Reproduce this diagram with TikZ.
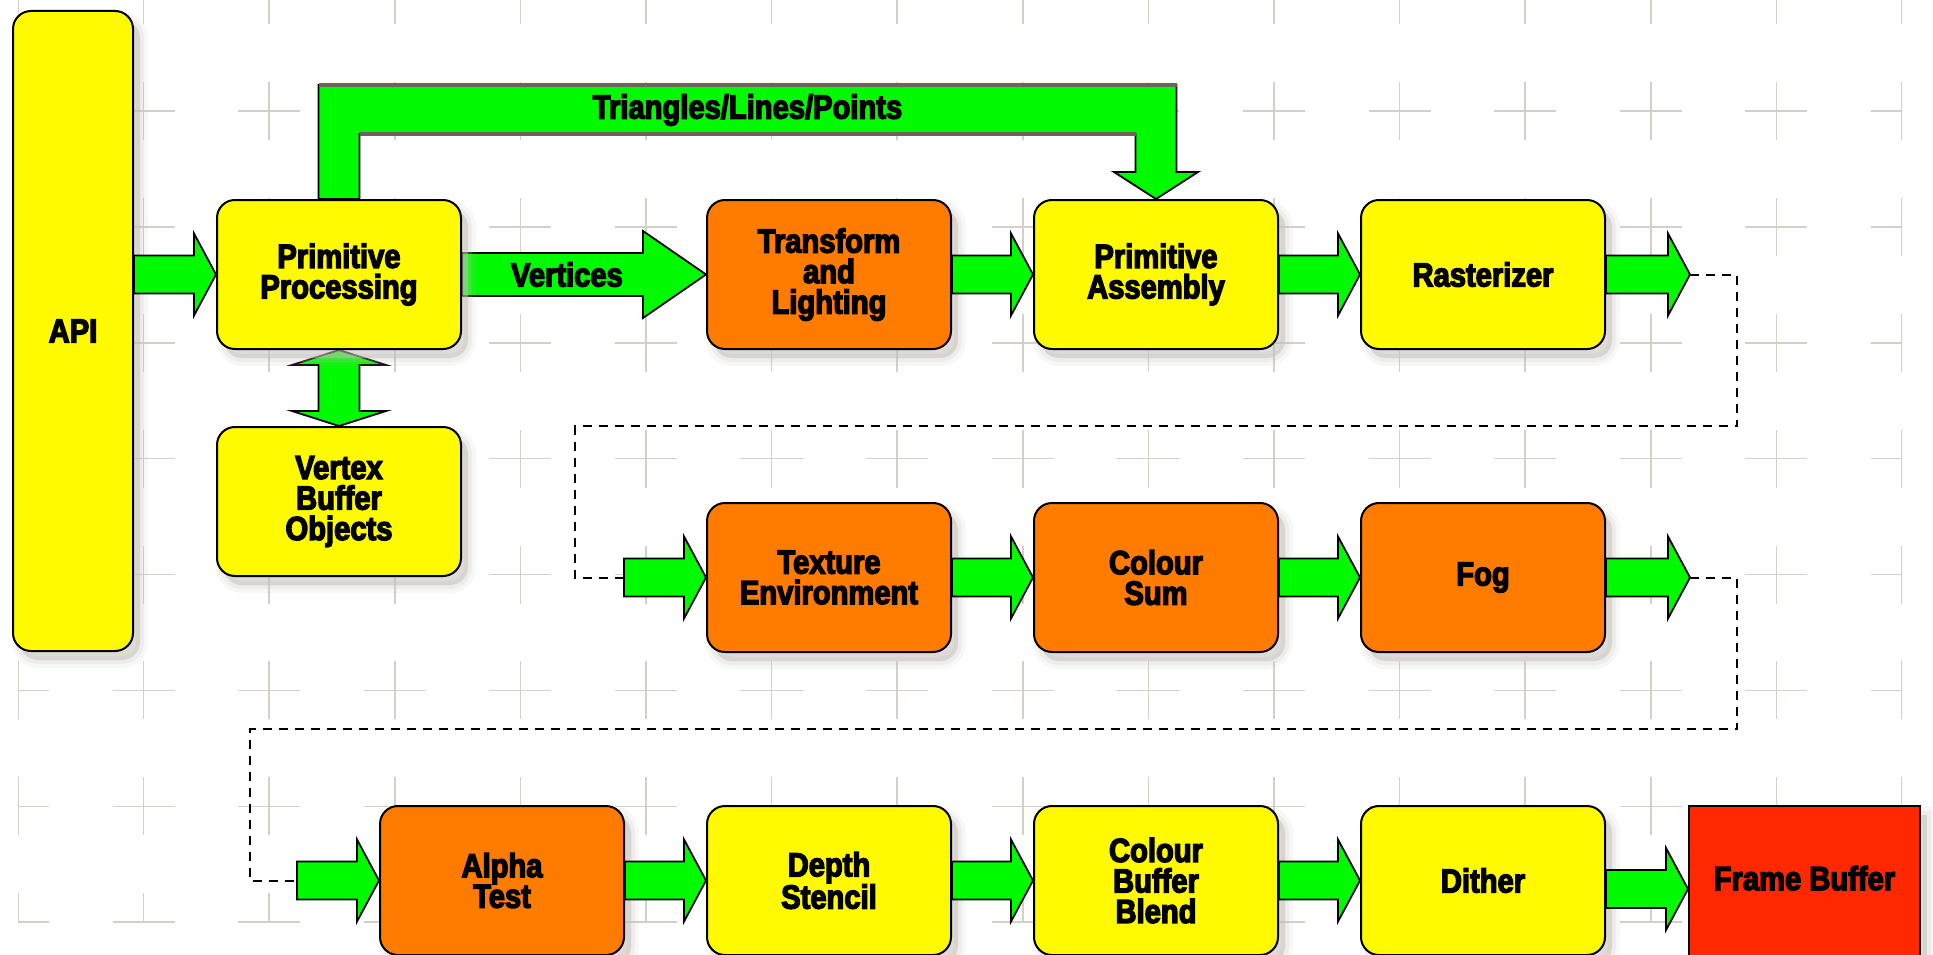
\documentclass[tikz,border=0pt]{standalone}
\usepackage{fontspec}
\setmainfont{Liberation Sans}[FakeStretch=0.87, BoldFeatures={FakeBold=4}]
\usepackage{xcolor}
\usepackage{tikz}
\usetikzlibrary{positioning, calc, shadows}
\definecolor{boxyellow}{HTML}{FFFA00}
\definecolor{boxorange}{HTML}{FF7C00}
\definecolor{fbred}{HTML}{FF2800}
\definecolor{pipegreen}{HTML}{00FA00}
\definecolor{gridbeige}{HTML}{D4D0C8}
\definecolor{shadowgray}{HTML}{C4C0BA}
\definecolor{edgegray}{HTML}{66665F}
\pgfdeclarelayer{grid}
\pgfdeclarelayer{under}
\pgfsetlayers{grid,under,main}

\tikzset{
    soft shadow/.style={
        general shadow={shadow xshift=7pt, shadow yshift=-9pt, fill=shadowgray, draw=shadowgray, line width=16pt, opacity=.12},
        general shadow={shadow xshift=7pt, shadow yshift=-9pt, fill=shadowgray, draw=shadowgray, line width=8pt, opacity=.18},
        general shadow={shadow xshift=7pt, shadow yshift=-9pt, fill=shadowgray, opacity=.3}},
    stage/.style={draw=black, line width=2pt, rounded corners=18pt, minimum width=244pt,
        minimum height=149pt, align=center, soft shadow},
    ystage/.style={stage, fill=boxyellow},
    ostage/.style={stage, fill=boxorange},
    fbbox/.style={draw=black, line width=2pt, fill=fbred, minimum width=231pt,
        minimum height=166pt, text depth=22pt, soft shadow},
    fat/.style={fill=pipegreen, draw=black, line width=1.8pt, line join=miter},
    dashlink/.style={draw=black, line width=2pt, dash pattern=on 9pt off 7pt},
}

% from, to, shaft half, head half, head length
\newcommand{\fatright}[5]{%
    \draw[fat] let \p1=(#1), \p2=(#2) in
        (\x1,\y2+#3) -- (\x2-#5,\y2+#3) -- (\x2-#5,\y2+#4) -- (\x2,\y2)
        -- (\x2-#5,\y2-#4) -- (\x2-#5,\y2-#3) -- (\x1,\y2-#3) -- cycle;}

\begin{document}
\begin{tikzpicture}[x=1pt, y=-1pt, font=\fontsize{33.5}{30.5}\selectfont\bfseries]
    \useasboundingbox (0,0) rectangle (1933,955);

    \begin{pgfonlayer}{grid}
        \fill[white] (0,0) rectangle (1933,955);
        \begin{scope}
            \clip (18,-40) rectangle (1902,922);
            \foreach \i in {0,...,15}
                \foreach \j in {0,...,8}
                    \draw[gridbeige, line width=1.6pt]
                        (18+125.6*\i-31, -5+115.9*\j) -- ++(62,0)
                        (18+125.6*\i, -5+115.9*\j-29) -- ++(0,58);
        \end{scope}
    \end{pgfonlayer}

    \node[ystage, minimum width=120pt, minimum height=640pt] (api) at (73,331) {API};
    \node[ystage] (prim) at (339,274.5) {Primitive\\Processing};
    \node[ostage, right=244pt of prim] (xform) {Transform\\and\\Lighting};
    \node[ystage, right=81pt of xform] (asm) {Primitive\\Assembly};
    \node[ystage, right=81pt of asm] (rast) {Rasterizer};
    \node[ystage, below=76pt of prim] (vbo) {Vertex\\Buffer\\Objects};
    \node[ostage, below=152pt of xform] (texenv) {Texture\\Environment};
    \node[ostage, right=81pt of texenv] (csum) {Colour\\Sum};
    \node[ostage, right=81pt of csum] (fog) {Fog};
    \node[ystage, below=152pt of texenv] (depth) {Depth\\Stencil};
    \node[ostage, left=81pt of depth] (alpha) {Alpha\\Test};
    \node[ystage, right=81pt of depth] (blend) {Colour\\Buffer\\Blend};
    \node[ystage, right=81pt of blend] (dither) {Dither};
    \node[fbbox, right=82pt of dither, yshift=-8.5pt] (fb) {Frame Buffer};

    \coordinate (rtip) at ([xshift=84pt]rast.east);
    \coordinate (ftip) at ([xshift=84pt]fog.east);
    \coordinate (tstart) at ([xshift=-82pt]texenv.west);
    \coordinate (astart) at ([xshift=-82pt]alpha.west);

    \begin{pgfonlayer}{under}
        \fatright{prim.east}{xform.west}{21.5pt}{43.5pt}{63pt}
        \draw[fat] let \p1=(prim.south), \p2=(vbo.north) in
            (\x1,\y1) -- (\x1+47pt,\y1-15pt) -- (\x1+20.5pt,\y1-15pt) -- (\x1+20.5pt,\y2+15pt)
            -- (\x1+47pt,\y2+15pt) -- (\x1,\y2) -- (\x1-47pt,\y2+15pt) -- (\x1-20.5pt,\y2+15pt)
            -- (\x1-20.5pt,\y1-15pt) -- (\x1-47pt,\y1-15pt) -- cycle;
    \end{pgfonlayer}
    \node (vlabel) at ($(prim.east)!.43!(xform.west)$) {Vertices};

    \draw[dashlink] (rtip) -- ++(47,0) |- ($(asm.south)!.5!(csum.north)$) -| ([xshift=-49pt]tstart) -- (tstart);
    \draw[dashlink] (ftip) -- ++(47,0) |- ($(csum.south)!.5!(blend.north)$) -| ([xshift=-47pt]astart) -- (astart);

    \foreach \a/\b in {api.east/prim.west, xform.east/asm.west, asm.east/rast.west, rast.east/rtip,
        tstart/texenv.west, texenv.east/csum.west, csum.east/fog.west, fog.east/ftip,
        astart/alpha.west, alpha.east/depth.west, depth.east/blend.west, blend.east/dither.west,
        dither.east/fb.west}
        {\fatright{\a}{\b}{19pt}{41pt}{22pt}}

    \draw[fat] let \p1=(prim.north), \p2=(asm.north) in
        (\x1-20.5pt,\y1) -- (\x1-20.5pt,\y1+114pt) -- (\x2+20.5pt,\y1+114pt) -- (\x2+20.5pt,\y2+27pt)
        -- (\x2+42pt,\y2+27pt) -- (\x2,\y2) -- (\x2-42pt,\y2+27pt) -- (\x2-20.5pt,\y2+27pt)
        -- (\x2-20.5pt,\y1+65pt) -- (\x1+20.5pt,\y1+65pt) -- (\x1+20.5pt,\y1) -- cycle;
    \draw[edgegray, line width=4pt] let \p1=(prim.north), \p2=(asm.north) in
        (\x1-20.5pt,\y1+114pt) -- (\x2+20.5pt,\y1+114pt)
        (\x1+20.5pt,\y1+65pt) -- (\x2-20.5pt,\y1+65pt);
    \node[yshift=89pt] (tlp) at ($(prim.north)!.5!(asm.north)$) {Triangles/Lines/Points};
\end{tikzpicture}
\end{document}
